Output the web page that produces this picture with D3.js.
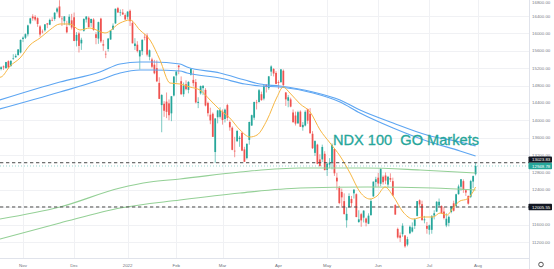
<!DOCTYPE html>
<html>
<head>
<meta charset="utf-8">
<script src="https://cdn.jsdelivr.net/npm/d3@7"></script>
<style>
  body { margin: 0; background: #fff; }
  svg { display: block; }
</style>
</head>
<body>
<div id="chart"></div>
<script>
// daily candles, one array per month: [open, high, low, close]
var oct21 = [[15180,15245,15150,15221],[15240,15262,15160,15218],[15200,15345,15190,15340],[15360,15380,15190,15215],[15250,15380,15230,15369],[15420,15520,15390,15426],[15450,15530,15440,15484],[15500,15640,15490,15630],[15560,15860,15540,15850]];
var nov21 = [[15870,15930,15800,15902],[15900,16000,15870,15982],[15980,16200,15930,16184],[16230,16360,16210,16346],[16390,16440,16290,16345],[16380,16420,16280,16319],[16350,16370,16150,16217],[16160,16190,15920,15974],[16040,16090,16000,16034],[16070,16215,16040,16207],[16230,16240,16120,16205],[16200,16340,16190,16310],[16310,16370,16280,16296],[16330,16490,16290,16474],[16500,16600,16460,16573],[16620,16764,16350,16370],[16340,16400,16170,16330],[16280,16400,16200,16391],[16150,16290,16000,16025],[16200,16440,16180,16383],[16300,16450,16090,16135]];
var dec21 = [[16370,16480,15820,15826],[15830,16030,15700,15966],[16000,16040,15560,15712],[15770,15900,15620,15853],[16060,16350,16040,16331],[16320,16400,16250,16387],[16360,16390,16130,16147],[16240,16340,16150,16331],[16320,16350,16060,16080],[15980,16030,15750,15896],[15880,16270,15760,16259],[16340,16360,15780,15815],[15750,15850,15600,15719],[15530,15600,15430,15528],[15640,15890,15580,15881],[15860,16080,15850,16069],[16090,16230,16080,16177],[16230,16570,16220,16567],[16580,16610,16470,16482],[16480,16550,16400,16489],[16480,16560,16430,16434],[16420,16460,16310,16320]];
var jan22 = [[16380,16510,16320,16501],[16520,16550,16170,16280],[16240,16290,15770,15771],[15710,15890,15620,15766],[15740,15820,15560,15593],[15470,15620,15170,15611],[15590,15860,15500,15853],[15920,15990,15840,15906],[15950,16000,15470,15512],[15460,15630,15380,15611],[15400,15440,15200,15232],[15280,15390,15060,15082],[15200,15380,14880,14897],[14860,14990,14490,14493],[14350,14600,13725,14583],[14380,14440,14080,14220],[14430,14640,14050,14194],[14390,14480,14000,14117],[14160,14560,13980,14553],[14570,15010,14550,15008]];
var feb22 = [[15030,15130,14870,15122],[15260,15270,15060,15221],[14900,15010,14580,14601],[14600,14870,14540,14798],[14830,14920,14690,14717],[14700,14900,14620,14883],[15050,15200,15030,15187],[14930,15150,14780,14855],[14880,14950,14390,14413],[14400,14530,14280,14425],[14620,14800,14590,14788],[14740,14810,14580,14793],[14700,14740,14320,14340],[14400,14430,14090,14163],[14130,14290,13910,13997],[14150,14180,13620,13619],[13270,14050,13021,14042],[14070,14240,13930,14227],[14080,14300,14040,14237]];
var mar22 = [[14200,14250,13900,14006],[14030,14270,13950,14246],[14350,14380,13990,14057],[13960,14000,13760,13838],[13830,13860,13310,13320],[13300,13620,13150,13285],[13520,13780,13500,13754],[13570,13640,13390,13599],[13710,13740,13290,13302],[13330,13390,13040,13046],[13130,13470,13100,13458],[13550,13970,13440,13961],[13880,14130,13870,14118],[14060,14430,14010,14420],[14410,14470,14250,14401],[14420,14720,14410,14692],[14600,14660,14450,14464],[14500,14800,14460,14799],[14820,14830,14640,14767],[14740,15020,14700,15011],[15120,15265,15020,15239],[15180,15200,15010,15077],[15090,15130,14830,14838]];
var apr22 = [[14880,14920,14720,14862],[14880,15180,14860,15172],[15140,15170,14770,14810],[14640,14650,14330,14482],[14450,14580,14300,14530],[14480,14520,14300,14315],[14180,14250,13950,13955],[14110,14200,13880,13924],[13930,14220,13920,14187],[14200,14230,13850,13851],[13840,13960,13760,13894],[13880,14230,13860,14195],[14260,14270,13920,13991],[14150,14280,13700,13700],[13690,13750,13340,13358],[13250,13540,13180,13522],[13440,13460,12990,12998],[13100,13220,12930,12948],[13100,13440,13040,13387],[13230,13290,12850,12854]];
var may22 = [[12860,13020,12720,13002],[12980,13130,12900,13031],[13040,13470,12870,13436],[13340,13350,12720,12781],[12680,12790,12400,12594],[12450,12490,12070,12096],[12350,12430,11990,12227],[12140,12320,11830,11843],[11700,12000,11530,11847],[12000,12320,11990,12257],[12190,12260,12000,12094],[12320,12410,12200,12406],[12300,12320,11770,11774],[11660,11930,11640,11721],[11840,11870,11550,11697],[11760,11930,11650,11921],[11740,11760,11560,11645],[11620,11860,11610,11806],[11820,12190,11800,12142],[12250,12590,12240,12589],[12580,12700,12460,12643]];
var jun22 = [[12680,12790,12470,12546],[12540,12900,12480,12880],[12700,12730,12520,12576],[12730,12800,12530,12612],[12520,12720,12460,12700],[12670,12780,12580,12634],[12600,12680,12260,12268],[12050,12070,11830,11830],[11500,11530,11280,11305],[11350,11420,11200,11297],[11380,11630,11320,11574],[11350,11360,11068,11100],[11140,11320,11100,11265],[11400,11580,11380,11551],[11440,11650,11420,11536],[11570,11740,11500,11721],[11800,12140,11790,12141],[12160,12180,11990,12065],[12070,12150,11700,11700],[11700,11800,11630,11720],[11570,11660,11390,11504]];
var jul22 = [[11480,11600,11370,11583],[11480,11820,11390,11792],[11810,11930,11720,11861],[11900,12140,11890,12125],[12040,12200,12010,12126],[12030,12040,11850,11861],[11900,12000,11720,11751],[11580,11860,11540,11735],[11640,11810,11560,11779],[11890,12030,11860,12018],[12090,12150,11900,11919],[12030,12310,12000,12298],[12300,12520,12290,12478],[12470,12650,12380,12644],[12600,12640,12330,12397],[12390,12410,12260,12337],[12260,12270,12060,12082],[12240,12630,12210,12602],[12590,12730,12440,12717],[12760,13030,12730,12948.78]];

var months = [oct21, nov21, dec21, jan22, feb22, mar22, apr22, may22, jun22, jul22];
var monthLabels = ["", "Nov", "Dec", "2022", "Feb", "Mar", "Apr", "May", "Jun", "Jul"];
var nextMonthLabel = "Aug";

var priceTicks = [16800, 16400, 16000, 15600, 15200, 14800, 14400, 14000, 13600, 13200, 12800, 12400, 12000, 11600, 11200];
var levels = [13023.83, 12005.55];
var lastPrice = 12948.78;
var title = "NDX 100  GO Markets";

// moving averages: [trading day, price]
var fastMa = [[-0.5,14990],[0,14996],[3.7,15250],[7.8,15434],[11.9,15733],[16,15894],[20,16078],[24.2,16216],[28.3,16216],[32.4,16078],[36.5,16124],[42.7,16009],[48.9,16239],[53,16308],[57,16078],[61.2,15848],[65.3,15388],[69.4,14858],[73.5,14835],[77.6,14766],[81.7,14697],[85.9,14467],[90,14237],[94,14053],[98.2,13777],[102.3,13616],[105.2,13662],[109.3,14007],[113.4,14536],[115.9,14766],[118.7,14628],[122.9,14375],[127,14191],[131.1,13777],[135.2,13478],[139.3,13178],[143.4,12787],[147.5,12350],[151.6,12189],[154.5,12258],[157.8,12465],[161.1,12258],[165.2,11890],[169.3,11729],[173.4,11775],[177.5,11775],[180.4,11867],[183.3,11821],[185.7,11982],[188.6,12143],[191.5,12189],[193.9,12350],[195,12465]];
var blueMaA = [[-0.5,14467],[24.2,14881],[40.6,15111],[48.9,15296],[57.1,15342],[62.4,15342],[73.5,15296],[76.4,15227],[89.9,15088],[100.2,14927],[106.4,14835],[114.6,14789],[128.2,14651],[139.3,14467],[147.5,14237],[161.1,13938],[175,13662],[188.6,13501],[195,13409]];
var blueMaB = [[-0.5,14260],[24.2,14651],[40.6,14927],[48.9,15088],[57.1,15157],[62.4,15157],[73.5,15134],[76.4,15088],[89.9,14973],[100.2,14835],[106.4,14789],[114.6,14766],[128.2,14628],[139.3,14421],[147.5,14168],[161.1,13823],[175,13524],[188.6,13294],[195,13179]];
var greenMaA = [[-0.5,11729],[24.2,12005],[48.9,12442],[61.2,12580],[73.5,12649],[98.2,12810],[122.9,12902],[149.6,12902],[172.2,12856],[195,12787]];
var greenMaB = [[-0.5,11269],[24.2,11637],[48.9,11982],[73.5,12166],[98.2,12327],[122.9,12442],[150.4,12465],[177.5,12442],[195,12396]];

var width = 554, height = 269;
var plotW = 529, plotH = 258;
var upColor = "#26a69a", downColor = "#ef5350";

var candles = [];
var monthStarts = [];
months.forEach(function(m, mi) {
  monthStarts.push({ label: monthLabels[mi], index: candles.length });
  m.forEach(function(d) {
    candles.push({ i: candles.length, open: d[0], high: d[1], low: d[2], close: d[3] });
  });
});
monthStarts.push({ label: nextMonthLabel, index: candles.length });

var x = d3.scaleLinear().domain([-0.453, 216.96]).range([0, plotW]);
var y = d3.scaleLinear().domain([10831.6, 16768.2]).range([plotH, 0]);
var step = x(1) - x(0);

var svg = d3.select("#chart")
  .append("svg")
  .attr("width", width)
  .attr("height", height)
  .style("font-family", "'Liberation Sans', Arial, sans-serif");

svg.append("defs").append("clipPath").attr("id", "plotClip")
  .append("rect").attr("width", plotW).attr("height", plotH);

// grid
var grid = svg.append("g").attr("clip-path", "url(#plotClip)");
grid.selectAll(".hg")
  .data(priceTicks)
  .join("line")
  .attr("x1", 0).attr("x2", plotW)
  .attr("y1", d => Math.round(y(d)) + 0.5).attr("y2", d => Math.round(y(d)) + 0.5)
  .attr("stroke", "#f0f1f4");
grid.selectAll(".vg")
  .data(monthStarts.filter(d => d.label))
  .join("line")
  .attr("x1", d => Math.round(x(d.index)) + 0.5).attr("x2", d => Math.round(x(d.index)) + 0.5)
  .attr("y1", 0).attr("y2", plotH)
  .attr("stroke", "#f0f1f4");

var plot = svg.append("g").attr("clip-path", "url(#plotClip)");

// candles
var cg = plot.append("g");
cg.selectAll("line")
  .data(candles)
  .join("line")
  .attr("x1", d => x(d.i)).attr("x2", d => x(d.i))
  .attr("y1", d => y(d.high)).attr("y2", d => y(d.low))
  .attr("stroke", d => d.close >= d.open ? upColor : downColor)
  .attr("stroke-width", 0.6);
cg.selectAll("rect")
  .data(candles)
  .join("rect")
  .attr("x", d => x(d.i) - step * 0.36)
  .attr("width", step * 0.72)
  .attr("y", d => y(Math.max(d.open, d.close)))
  .attr("height", d => Math.max(0.6, Math.abs(y(d.open) - y(d.close))))
  .attr("fill", d => d.close >= d.open ? upColor : downColor);

// moving averages
var line = d3.line().x(d => x(d[0])).y(d => y(d[1])).curve(d3.curveMonotoneX);
var maSpecs = [
  { data: greenMaA, color: "#94d096", w: 1.1 },
  { data: greenMaB, color: "#94d096", w: 1.1 },
  { data: blueMaA, color: "#5ea6f2", w: 1.2 },
  { data: blueMaB, color: "#5ea6f2", w: 1.2 },
  { data: fastMa, color: "#f7b743", w: 1 }
];
plot.selectAll(".ma")
  .data(maSpecs)
  .join("path")
  .attr("d", d => line(d.data))
  .attr("fill", "none")
  .attr("stroke", d => d.color)
  .attr("stroke-width", d => d.w);

// horizontal levels
plot.selectAll(".lvl")
  .data(levels)
  .join("line")
  .attr("x1", 0).attr("x2", plotW)
  .attr("y1", d => y(d)).attr("y2", d => y(d))
  .attr("stroke", "#4a4a4a")
  .attr("stroke-width", 1)
  .attr("stroke-dasharray", "3.3,2.7");
plot.append("line")
  .attr("x1", 0).attr("x2", plotW)
  .attr("y1", y(lastPrice)).attr("y2", y(lastPrice))
  .attr("stroke", upColor)
  .attr("stroke-opacity", 0.6)
  .attr("stroke-width", 0.8)
  .attr("stroke-dasharray", "1,2");

// title text
svg.append("text")
  .attr("x", 333)
  .attr("y", 144.5)
  .attr("fill", "#26a69a")
  .attr("stroke", "#26a69a")
  .attr("stroke-width", 0.3)
  .attr("font-size", 14.6)
  .style("white-space", "pre")
  .text(title);

// price axis
svg.append("line")
  .attr("x1", plotW + 0.5).attr("x2", plotW + 0.5)
  .attr("y1", 0).attr("y2", height)
  .attr("stroke", "#e0e3eb");
svg.append("line")
  .attr("x1", 0).attr("x2", plotW)
  .attr("y1", plotH + 0.5).attr("y2", plotH + 0.5)
  .attr("stroke", "#e0e3eb");

svg.append("g")
  .selectAll("text")
  .data(priceTicks)
  .join("text")
  .attr("x", plotW + 3)
  .attr("y", d => Math.max(y(d), 2.6))
  .attr("dy", "0.35em")
  .attr("font-size", 4.4)
  .attr("fill", "#7b7e87")
  .text(d => d3.format(".2f")(d));

// time axis labels
svg.append("g")
  .selectAll("text")
  .data(monthStarts.filter(d => d.label))
  .join("text")
  .attr("x", d => x(d.index))
  .attr("y", 266.6)
  .attr("text-anchor", "middle")
  .attr("font-size", 4.4)
  .attr("fill", "#6f727b")
  .text(d => d.label);

// price boxes
var boxH = 6.4;
var lastY = y(lastPrice);
var boxes = [
  { v: levels[0], cy: Math.min(y(levels[0]), lastY - boxH), fill: "#131722" },
  { v: lastPrice, cy: lastY, fill: upColor },
  { v: levels[1], cy: y(levels[1]), fill: "#131722" }
];
var bg = svg.append("g").selectAll("g").data(boxes).join("g");
bg.append("rect")
  .attr("x", plotW - 0.5)
  .attr("y", d => d.cy - boxH / 2)
  .attr("width", 23.5)
  .attr("height", boxH)
  .attr("rx", 0.8)
  .attr("fill", d => d.fill);
bg.append("text")
  .attr("x", plotW + 3)
  .attr("y", d => d.cy)
  .attr("dy", "0.35em")
  .attr("font-size", 4.4)
  .attr("fill", "#fff")
  .text(d => d3.format(".2f")(d.v));

// settings gear
svg.append("circle")
  .attr("cx", 541).attr("cy", 264.5).attr("r", 2.3)
  .attr("fill", "none")
  .attr("stroke", "#555")
  .attr("stroke-width", 1);
</script>
</body>
</html>
